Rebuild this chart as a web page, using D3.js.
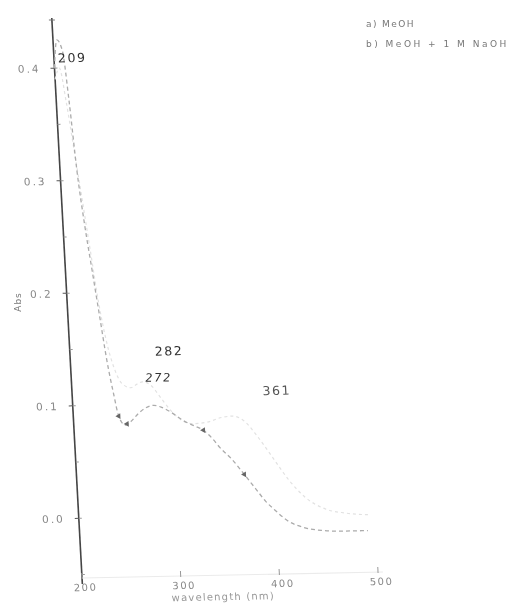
<!DOCTYPE html>
<html>
<head>
<meta charset="utf-8">
<script src="https://cdn.jsdelivr.net/npm/d3@7"></script>
<style>
  body { margin: 0; background: #fff; }
  svg { display: block; }
</style>
</head>
<body>
<div id="chart"></div>
<script>
// spectrum a) MeOH
const wlA = [200, 204, 209, 213, 217, 222, 227, 232, 237, 242, 246, 252, 258, 266, 274, 282, 290, 300, 311, 322, 331, 340, 347, 358, 370, 380, 390, 400, 410, 427, 445, 465, 492]
const absA = [0.40, 0.425, 0.415, 0.37, 0.31, 0.26, 0.22, 0.18, 0.14, 0.11, 0.09, 0.082, 0.085, 0.092, 0.097, 0.099, 0.097, 0.092, 0.085, 0.08, 0.076, 0.068, 0.06, 0.05, 0.036, 0.024, 0.012, 0.003, -0.005, -0.012, -0.015, -0.016, -0.016]
const markersA = [246, 254, 331, 370]

// spectrum b) MeOH + NaOH
const wlB = [200, 205, 210, 215, 220, 226, 232, 238, 245, 252, 260, 266, 272, 280, 290, 300, 310, 320, 335, 350, 361, 372, 385, 400, 415, 430, 450, 470, 495]
const absB = [0.39, 0.40, 0.37, 0.33, 0.29, 0.24, 0.19, 0.155, 0.13, 0.118, 0.115, 0.118, 0.12, 0.117, 0.105, 0.093, 0.085, 0.082, 0.083, 0.087, 0.088, 0.084, 0.07, 0.05, 0.03, 0.015, 0.004, 0.0, -0.002]

const xTicks = [200, 300, 400, 500]
const yTicks = [0.0, 0.1, 0.2, 0.3, 0.4]
const yTickLabels = ['0.0', '0.1', '0.2', '0.3', '0.4']

const peakLabels = ['209', '282', '272', '361']
const peakWl = [204, 286, 275, 393]
const peakAbs = [0.405, 0.143, 0.12, 0.106]

const legendLabels = ['a) MeOH', 'b) MeOH + 1 M NaOH']

const totalWidth = 513
const totalHeight = 607
const width = 296
const height = 556

const svg = d3.select('#chart').append('svg')
  .attr('width', totalWidth)
  .attr('height', totalHeight)
  .style('font-family', '"DejaVu Sans", sans-serif')

svg.append('defs').append('filter')
  .attr('id', 'soft')
  .append('feGaussianBlur')
    .attr('stdDeviation', 0.6)

const root = svg.append('g').attr('filter', 'url(#soft)')

// the scan is slightly skewed, so the plot frame is too
const chart = root.append('g')
  .attr('transform', 'matrix(1,-0.02,0.054,1,52,22)')

const x = d3.scaleLinear()
  .domain([200, 500])
  .range([0, width])
const y = d3.scaleLinear()
  .domain([-0.053, 0.441])
  .range([height, 0])

// y axis
chart.append('line')
  .attr('x1', 0).attr('x2', 0)
  .attr('y1', -4).attr('y2', height + 6)
  .attr('stroke', '#444')
  .attr('stroke-width', 1.6)
chart.append('line')
  .attr('x1', -3).attr('x2', 3)
  .attr('y1', -2).attr('y2', -2)
  .attr('stroke', '#777')
chart.selectAll('.ytick').data(yTicks)
  .enter().append('line')
    .attr('x1', -4).attr('x2', 0)
    .attr('y1', (d) => y(d)).attr('y2', (d) => y(d))
    .attr('stroke', '#555')
chart.selectAll('.yminor').data(d3.range(-0.05, 0.44, 0.05))
  .enter().append('line')
    .attr('x1', 0).attr('x2', 3)
    .attr('y1', (d) => y(d)).attr('y2', (d) => y(d))
    .attr('stroke', '#999')
chart.selectAll('.ylabel').data(yTicks)
  .enter().append('text')
    .text((d, i) => yTickLabels[i])
    .attr('x', -14)
    .attr('y', (d) => y(d) + 4)
    .attr('text-anchor', 'end')
    .attr('font-size', 10.5)
    .attr('letter-spacing', 2)
    .attr('fill', '#888')

// x axis, very faint in the scan
chart.append('line')
  .attr('x1', 0).attr('x2', x(505))
  .attr('y1', height).attr('y2', height)
  .attr('stroke', '#ebebeb')
  .attr('stroke-width', 1.2)
chart.selectAll('.xtick').data(xTicks)
  .enter().append('line')
    .attr('x1', (d) => x(d)).attr('x2', (d) => x(d))
    .attr('y1', height - 5).attr('y2', height + 1)
    .attr('stroke', '#999')
chart.selectAll('.xlabel').data(xTicks)
  .enter().append('text')
    .text((d) => d)
    .attr('x', (d) => x(d) + 3)
    .attr('y', height + 13)
    .attr('text-anchor', 'middle')
    .attr('font-size', 10)
    .attr('letter-spacing', 1.5)
    .attr('fill', '#888')
chart.append('text')
  .text('wavelength (nm)')
  .attr('x', x(342))
  .attr('y', height + 25)
  .attr('text-anchor', 'middle')
  .attr('font-size', 10)
  .attr('letter-spacing', 1.2)
  .attr('fill', '#999')

const line = d3.line()
  .x((d) => x(d[0]))
  .y((d) => y(d[1]))
  .curve(d3.curveMonotoneX)

chart.append('path')
  .datum(d3.zip(wlB, absB))
  .attr('d', line)
  .attr('fill', 'none')
  .attr('stroke', '#e2e2e2')
  .attr('stroke-width', 1.2)
  .attr('stroke-dasharray', '3,3')

chart.append('path')
  .datum(d3.zip(wlA, absA))
  .attr('d', line)
  .attr('fill', 'none')
  .attr('stroke', '#ababab')
  .attr('stroke-width', 1.3)
  .attr('stroke-dasharray', '4,3')

const interpA = (w) => {
  const i = d3.bisectLeft(wlA, w)
  if (i <= 0) return absA[0]
  const t = (w - wlA[i - 1]) / (wlA[i] - wlA[i - 1])
  return absA[i - 1] + t * (absA[i] - absA[i - 1])
}
chart.selectAll('.marker').data(markersA)
  .enter().append('path')
    .attr('d', d3.symbol(d3.symbolTriangle, 14))
    .attr('transform', (d) => `translate(${x(d)},${y(interpA(d))}) rotate(30)`)
    .attr('fill', '#666')

// peak labels
chart.selectAll('.peak').data(peakLabels)
  .enter().append('text')
    .text((d) => d)
    .attr('x', (d, i) => x(peakWl[i]))
    .attr('y', (d, i) => y(peakAbs[i]))
    .attr('font-size', (d, i) => i === 2 ? 11.5 : 12.5)
    .attr('font-style', (d, i) => i === 2 ? 'italic' : 'normal')
    .attr('letter-spacing', 1.6)
    .attr('fill', (d, i) => i === 3 ? '#555' : '#333')

// y label
root.append('text')
  .text('Abs')
  .attr('transform', 'translate(21, 302) rotate(-90)')
  .attr('text-anchor', 'middle')
  .attr('font-size', 9)
  .attr('letter-spacing', 1)
  .attr('fill', '#777')

// legend
root.selectAll('.legend').data(legendLabels)
  .enter().append('text')
    .text((d) => d)
    .attr('x', 366)
    .attr('y', (d, i) => 27 + i * 20)
    .attr('font-size', 9)
    .attr('letter-spacing', (d, i) => i === 0 ? 1.4 : 2.5)
    .attr('fill', '#777')
</script>
</body>
</html>
